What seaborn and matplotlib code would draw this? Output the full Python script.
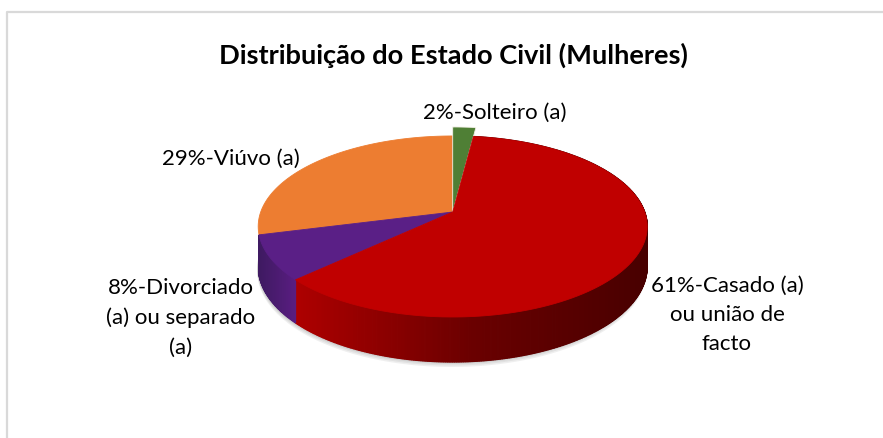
# Import necessary libraries
import numpy as np
import matplotlib
matplotlib.use('Agg')
import matplotlib.pyplot as plt
import seaborn as sns

# Data
categories = ['Solteiro (a)', 'Casado (a)\nou união de\nfacto', 'Divorciado\n(a) ou separado\n(a)', 'Viúvo (a)']
values = [2, 61, 8, 29]
top_colors = ['#4f7f35', '#c00000', '#5a1f86', '#ed7d31']
# only these two slices show a wall at the front
side_colors = {1: ['#ad0000', '#6a0000', '#480000'],
               2: ['#3f1a62', '#5a1d82']}
title = 'Distribuição do Estado Civil (Mulheres)'

sns.set_theme(style='white')
plt.rcParams['font.family'] = ['Lato', 'DejaVu Sans']

# Pie geometry in pixels
CX, CY = 452.7, 213.0
A, B, K = 192.0, 88.2, 0.16
DEPTH = 45
EXPLODE = {0: 1.14}


def rim(angle, r=1.0):
    # angle clockwise from the top, in degrees, with perspective
    t = np.radians(angle)
    u, v = r * np.sin(t), r * np.cos(t)
    w = 1 + K * v
    return CX + A * u / w, CY - B * v / w


def depth_at(angle):
    # the wall looks a little shorter away from the front of the pie
    return DEPTH - 6 * (1 + np.cos(np.radians(angle)))


fig = plt.figure(figsize=(8.83, 4.39), dpi=100)
ax = fig.add_axes([0, 0, 1, 1])
ax.set_xlim(0, 883)
ax.set_ylim(439, 0)
ax.axis('off')

# chart frame
ax.plot([7, 7, 883], [439, 13, 13], color='#d9d9d9', lw=1.6, solid_capstyle='butt')

# soft shadow under the pie
a_all = np.linspace(90, 270, 160)
xs, ys = rim(a_all)
for off in [5, 3.5, 2, 1]:
    ax.fill(xs - 1, ys + depth_at(a_all) + off, color='#555555', alpha=0.09, lw=0, zorder=1)

edges = np.cumsum([0] + values) * 3.6

# side walls, made of thin strips
for i, colors in side_colors.items():
    palette = sns.blend_palette(colors, 200)
    angles = np.linspace(edges[i], edges[i + 1], values[i] * 8 + 1)
    x0, x1 = rim(angles)[0].min(), rim(angles)[0].max()
    for a0, a1 in zip(angles[:-1], angles[1:]):
        xa, ya = rim(np.array([a0, a1]))
        d0, d1 = depth_at(a0), depth_at(a1)
        pos = (xa.mean() - x0) / (x1 - x0)
        col = palette[int(pos * 199)]
        ax.fill([xa[0], xa[1], xa[1], xa[0]], [ya[0], ya[1], ya[1] + d1, ya[0] + d0],
                color=col, lw=0.9, zorder=2)

# top faces
for i in [3, 2, 1, 0]:
    angles = np.linspace(edges[i], edges[i + 1], 120)
    xa, ya = rim(angles, EXPLODE.get(i, 1.0))
    ec = '#f4f1e8' if i == 0 else top_colors[i]
    ax.fill(np.r_[CX, xa], np.r_[CY, ya], facecolor=top_colors[i], edgecolor=ec, lw=0.6, zorder=3 + (i == 1))

# labels
fs = 16
ax.text(453, 55, title, fontsize=19.6, fontweight='bold', color='black', ha='center', va='center')
label_pos = [(495, 113), (727, 315), (181, 318), (231, 159)]
for (px, py), val, name in zip(label_pos, values, categories):
    ax.text(px, py, f'{val}%-{name}', fontsize=fs, color='black', ha='center', va='center',
            multialignment='center', linespacing=1.58)

plt.savefig('out.png', dpi=100)
